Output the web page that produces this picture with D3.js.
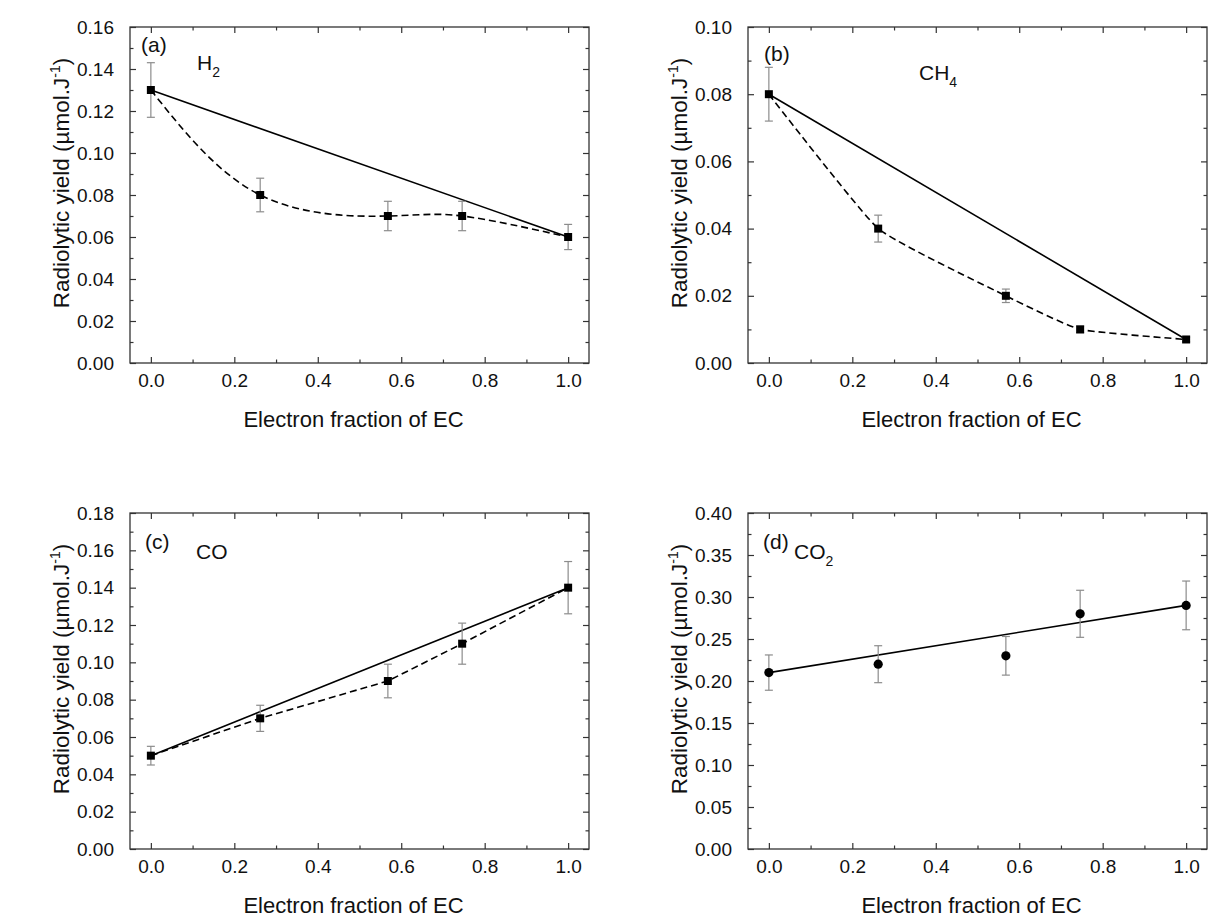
<!DOCTYPE html>
<html>
<head>
<meta charset="utf-8">
<script src="https://cdn.jsdelivr.net/npm/d3@7"></script>
<style>
  body { margin: 0; background: #fff; }
  svg { display: block; }
  text { font-family: "Liberation Sans", Arial, sans-serif; fill: #111; }
</style>
</head>
<body>
<div id="chart"></div>
<script>
// electron fraction of EC (shared by the 4 panels)
var xFrac = [0, 0.262, 0.568, 0.746, 1.0];
var xTicks = [0, 0.2, 0.4, 0.6, 0.8, 1.0];

// (a) H2
var h2Yield = [0.13, 0.08, 0.07, 0.07, 0.06];
var h2Err = [0.013, 0.008, 0.007, 0.007, 0.006];
var h2Ticks = [0, 0.02, 0.04, 0.06, 0.08, 0.10, 0.12, 0.14, 0.16];

// (b) CH4
var ch4Yield = [0.08, 0.04, 0.02, 0.01, 0.007];
var ch4Err = [0.008, 0.004, 0.002, 0.001, 0.0007];
var ch4Ticks = [0, 0.02, 0.04, 0.06, 0.08, 0.10];

// (c) CO
var coYield = [0.05, 0.07, 0.09, 0.11, 0.14];
var coErr = [0.005, 0.007, 0.009, 0.011, 0.014];
var coTicks = [0, 0.02, 0.04, 0.06, 0.08, 0.10, 0.12, 0.14, 0.16, 0.18];

// (d) CO2
var co2Yield = [0.21, 0.22, 0.23, 0.28, 0.29];
var co2Err = [0.021, 0.022, 0.023, 0.028, 0.029];
var co2Ticks = [0, 0.05, 0.10, 0.15, 0.20, 0.25, 0.30, 0.35, 0.40];

var W = 1226, H = 922;
var svg = d3.select("#chart").append("svg").attr("width", W).attr("height", H);

function mids(arr) {
    return d3.pairs(arr).map(function (p) { return (p[0] + p[1]) / 2; });
}

function drawPanel(o) {
    var pw = o.w, ph = o.h;
    var g = svg.append("g").attr("transform", "translate(" + o.left + "," + o.top + ")");
    var x = d3.scaleLinear().domain([-0.05, 1.05]).range([0, pw]);
    var y = d3.scaleLinear().domain([0, o.ticks[o.ticks.length - 1]]).range([ph, 0]);
    var fmtY = d3.format(".2f"), fmtX = d3.format(".1f");

    // major + minor ticks, inward on every side
    function ax(gen, scale, vals, size, fmt, tx, ty, pad) {
        var a = gen(scale).tickValues(vals).tickSize(-size).tickPadding(pad || 3);
        a.tickFormat(fmt || "");
        var s = g.append("g").attr("transform", "translate(" + tx + "," + ty + ")").call(a);
        s.select(".domain").remove();
        s.selectAll("line").attr("stroke", "#333").attr("stroke-width", 1.2);
        s.selectAll("text").style("font-size", "19px").attr("fill", "#111");
        return s;
    }
    ax(d3.axisLeft, y, o.ticks, 6, fmtY, 0, 0, 16);
    ax(d3.axisLeft, y, mids(o.ticks), 3.5, null, 0, 0);
    ax(d3.axisRight, y, o.ticks, 6, null, pw, 0);
    ax(d3.axisRight, y, mids(o.ticks), 3.5, null, pw, 0);
    ax(d3.axisBottom, x, xTicks, 6, fmtX, 0, ph, 11);
    ax(d3.axisBottom, x, mids(xTicks), 3.5, null, 0, ph);
    ax(d3.axisTop, x, xTicks, 6, null, 0, 0);
    ax(d3.axisTop, x, mids(xTicks), 3.5, null, 0, 0);

    g.append("rect").attr("width", pw).attr("height", ph)
        .attr("fill", "none").attr("stroke", "#333").attr("stroke-width", 1.3);

    var pts = xFrac.map(function (v, i) { return {x: v, y: o.yield[i], e: o.err[i]}; });

    // straight line between the pure-solvent end points
    var ends = [pts[0], pts[pts.length - 1]];
    g.append("path").datum(ends)
        .attr("d", d3.line().x(function (d) { return x(d.x); }).y(function (d) { return y(d.y); }))
        .attr("fill", "none").attr("stroke", "#000").attr("stroke-width", 1.6);

    if (o.curve) {
        g.append("path").datum(pts)
            .attr("d", d3.line().curve(o.curve).x(function (d) { return x(d.x); }).y(function (d) { return y(d.y); }))
            .attr("fill", "none").attr("stroke", "#000").attr("stroke-width", 1.6)
            .attr("stroke-dasharray", "7,4");
    }

    // error bars
    var eb = g.append("g").attr("stroke", "#8c8c8c").attr("stroke-width", 1.2);
    pts.forEach(function (d) {
        var cx = x(d.x);
        eb.append("line").attr("x1", cx).attr("x2", cx).attr("y1", y(d.y - d.e)).attr("y2", y(d.y + d.e));
        eb.append("line").attr("x1", cx - 4).attr("x2", cx + 4).attr("y1", y(d.y - d.e)).attr("y2", y(d.y - d.e));
        eb.append("line").attr("x1", cx - 4).attr("x2", cx + 4).attr("y1", y(d.y + d.e)).attr("y2", y(d.y + d.e));
    });

    // markers
    if (o.circle) {
        g.selectAll("circle.m").data(pts).enter().append("circle")
            .attr("cx", function (d) { return x(d.x); }).attr("cy", function (d) { return y(d.y); })
            .attr("r", 4.6).attr("fill", "#000");
    } else {
        g.selectAll("rect.m").data(pts).enter().append("rect")
            .attr("x", function (d) { return x(d.x) - 4; }).attr("y", function (d) { return y(d.y) - 4; })
            .attr("width", 8).attr("height", 8).attr("fill", "#000");
    }

    // axis titles
    g.append("text").attr("x", pw / 2 - 6).attr("y", ph + 64).attr("text-anchor", "middle")
        .style("font-size", "22px").text("Electron fraction of EC");
    var yt = g.append("text").attr("transform", "translate(-61," + (ph / 2 - 12) + ") rotate(-90)")
        .attr("text-anchor", "middle").style("font-size", "22.5px");
    yt.append("tspan").text("Radiolytic yield (µmol.J");
    yt.append("tspan").attr("dy", -9).style("font-size", "14px").text("-1");
    yt.append("tspan").attr("dy", 9).text(")");

    // panel letter and species
    g.append("text").attr("x", o.tag[0]).attr("y", o.tag[1]).style("font-size", "21px").text(o.letter);
    var sp = g.append("text").attr("x", o.sp[0]).attr("y", o.sp[1]).style("font-size", "21px");
    sp.append("tspan").text(o.name);
    if (o.sub) sp.append("tspan").attr("dy", 7).style("font-size", "14px").text(o.sub);
}

drawPanel({left: 130, top: 27, w: 459, h: 336, ticks: h2Ticks, yield: h2Yield, err: h2Err,
    curve: d3.curveNatural, letter: "(a)", tag: [11, 25], name: "H", sub: "2", sp: [67, 43]});
drawPanel({left: 748, top: 27, w: 459, h: 336, ticks: ch4Ticks, yield: ch4Yield, err: ch4Err,
    curve: d3.curveCardinal.tension(0.6), letter: "(b)", tag: [16, 34], name: "CH", sub: "4", sp: [171, 53]});
drawPanel({left: 130, top: 513, w: 459, h: 336, ticks: coTicks, yield: coYield, err: coErr,
    curve: d3.curveLinear, letter: "(c)", tag: [15, 36], name: "CO", sp: [66, 46]});
drawPanel({left: 748, top: 513, w: 459, h: 336, ticks: co2Ticks, yield: co2Yield, err: co2Err,
    circle: true, letter: "(d)", tag: [15, 36], name: "CO", sub: "2", sp: [46, 46]});
</script>
</body>
</html>
